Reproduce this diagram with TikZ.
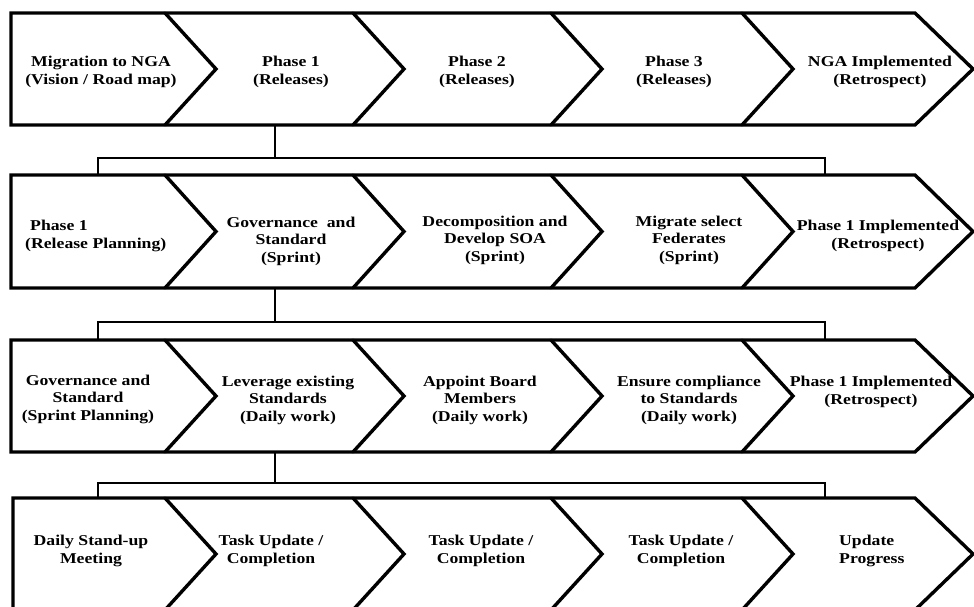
\documentclass[tikz,border=0pt]{standalone}
\usepackage{fontspec}
\setmainfont{Liberation Serif}[FakeStretch=1.18]
\begin{document}
\begin{tikzpicture}[x=1pt,y=-1pt,
  rowframe/.style={line width=3.4pt, line join=miter},
  divider/.style={line width=3.4pt, line cap=round},
  link/.style={line width=2.2pt},
  label/.style={font=\fontsize{15}{17.5}\selectfont\bfseries, align=center, inner sep=0pt},
  leftlabel/.style={label, align=left, anchor=west},
]
\useasboundingbox (0,0) rectangle (974,607);
\clip (0,0) rectangle (974,607);
\fill[white] (0,0) rectangle (974,607);

% Four arrow bands, each split into five chevron segments
\foreach \t/\b/\l in {13/125/11, 175/288/11, 340/452/11, 498/610/13} {
  \pgfmathsetmacro\m{(\t+\b)/2}
  \draw[rowframe] (\l,\t) -- (915,\t) -- (973,\m) -- (915,\b) -- (\l,\b) -- cycle;
  \foreach \x in {165,353,551,742} {
    \draw[divider] (\x,\t) -- (\x+51,\m) -- (\x,\b);
  }
}

% Level 1: road map
\node[label] (a1) at (101,72) {Migration to NGA\\(Vision / Road map)};
\node[label] (a2) at (291,72) {Phase 1\\(Releases)};
\node[label] (a3) at (477,72) {Phase 2\\(Releases)};
\node[label] (a4) at (674,72) {Phase 3\\(Releases)};
\node[label] (a5) at (880,72) {NGA Implemented\\(Retrospect)};

% Level 2: release
\node[leftlabel] (b1) at (25,236) {\hspace{5pt}Phase 1\\(Release Planning)};
\node[label] (b2) at (291,241) {Governance\ \ and\\Standard\\(Sprint)};
\node[label] (b3) at (495,240) {Decomposition and\\Develop SOA\\(Sprint)};
\node[label] (b4) at (689,240) {Migrate select\\Federates\\(Sprint)};
\node[label] (b5) at (878,236) {Phase 1 Implemented\\(Retrospect)};

% Level 3: sprint
\node[label] (c1) at (88,399) {Governance and\\Standard\\(Sprint Planning)};
\node[label] (c2) at (288,400) {Leverage existing\\Standards\\(Daily work)};
\node[label] (c3) at (480,400) {Appoint Board\\Members\\(Daily work)};
\node[label] (c4) at (689,400) {Ensure compliance\\to Standards\\(Daily work)};
\node[label] (c5) at (871,392) {Phase 1 Implemented\\(Retrospect)};

% Level 4: daily work
\node[label] (d1) at (91,551) {Daily Stand-up\\Meeting};
\node[label] (d2) at (271,551) {Task Update /\\Completion};
\node[label] (d3) at (481,551) {Task Update /\\Completion};
\node[label] (d4) at (681,551) {Task Update /\\Completion};
\node[leftlabel] (d5) at (839,551) {Update\\Progress};

% Connection points on the bands
\coordinate (r1out) at (275,125);
\coordinate (r2out) at (275,288);
\coordinate (r3out) at (275,452);
\coordinate (r2inL) at (98,175);  \coordinate (r2inR) at (825,175);
\coordinate (r3inL) at (98,340);  \coordinate (r3inR) at (825,340);
\coordinate (r4inL) at (98,498);  \coordinate (r4inR) at (825,498);
\coordinate (j1) at (275,158); \coordinate (bar1L) at (98,158); \coordinate (bar1R) at (825,158);
\coordinate (j2) at (275,322); \coordinate (bar2L) at (98,322); \coordinate (bar2R) at (825,322);
\coordinate (j3) at (275,483); \coordinate (bar3L) at (98,483); \coordinate (bar3R) at (825,483);

% Drill-down brackets between levels
\draw[link] (r1out) -- (j1);
\draw[link] (r2inL) -- (bar1L) -- (bar1R) -- (r2inR);
\draw[link] (r2out) -- (j2);
\draw[link] (r3inL) -- (bar2L) -- (bar2R) -- (r3inR);
\draw[link] (r3out) -- (j3);
\draw[link] (r4inL) -- (bar3L) -- (bar3R) -- (r4inR);
\end{tikzpicture}
\end{document}
